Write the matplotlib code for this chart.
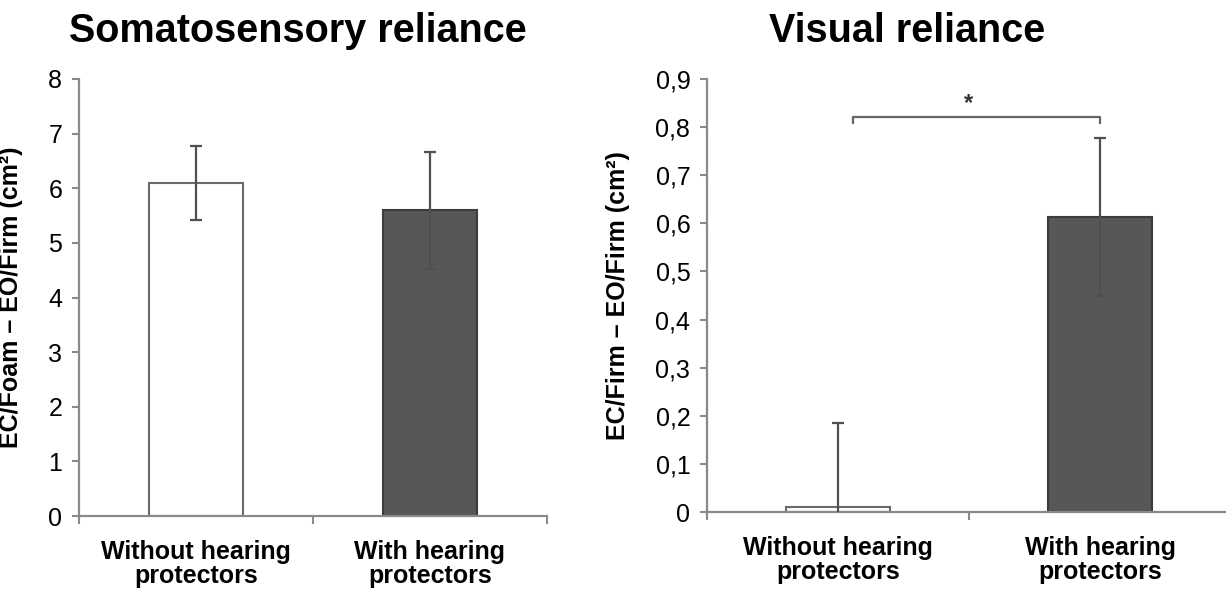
import matplotlib
matplotlib.use("Agg")
import matplotlib.pyplot as plt
from matplotlib.ticker import FixedLocator, FuncFormatter

plt.rcParams['font.family'] = ['Liberation Sans', 'DejaVu Sans']

# data
groups = ["Without hearing\nprotectors", "With hearing\nprotectors"]
somato_mean = [6.10, 5.60]
somato_err = [0.68, 1.07]
visual_mean = [0.01, 0.613]
visual_err = [0.175, 0.165]
bar_colors = ["white", "#575757"]
edge_colors = ["#6a6a6a", "#3c3c3c"]
visual_sig = (0.056, 1.0, 0.822, "*")   # x left, x right, height, mark

spine_col = "#8a8a8a"
err_col = "#505050"

fig = plt.figure(figsize=(12.26, 5.89), dpi=100)
ax1 = fig.add_axes([0.0644, 0.1239, 0.3817, 0.742])
ax2 = fig.add_axes([0.5767, 0.1307, 0.4274, 0.7351])


def draw_panel(ax, means, errs, ylim, yticks, ylabel, fmt):
    x = list(range(len(means)))
    ax.bar(x, means, width=0.40, color=bar_colors, edgecolor=edge_colors,
           linewidth=1.5, zorder=2)
    ax.errorbar(x, means, yerr=errs, fmt='none', ecolor=err_col,
                elinewidth=1.6, capsize=4.5, capthick=1.6, zorder=3)
    ax.set_xlim(-0.5, len(means) - 0.5)
    ax.set_ylim(*ylim)
    for s in ['top', 'right']:
        ax.spines[s].set_visible(False)
    for s in ['left', 'bottom']:
        ax.spines[s].set_color(spine_col)
        ax.spines[s].set_linewidth(1.6)
    ax.yaxis.set_major_locator(FixedLocator(yticks))
    ax.yaxis.set_major_formatter(FuncFormatter(fmt))
    ax.tick_params(axis='y', direction='out', length=5, width=1.5,
                   color=spine_col, labelsize=18, pad=7)
    # ticks at category borders, labels at the centres
    ax.xaxis.set_major_locator(FixedLocator([i - 0.5 for i in range(len(means) + 1)]))
    ax.xaxis.set_major_formatter(FuncFormatter(lambda v, p: ""))
    ax.xaxis.set_minor_locator(FixedLocator(x))
    ax.set_xticklabels(groups, minor=True)
    ax.tick_params(axis='x', which='major', direction='out', length=6,
                   width=1.5, color=spine_col)
    ax.tick_params(axis='x', which='minor', length=0, labelsize=18, pad=17)
    for t in ax.get_xticklabels(minor=True):
        t.set_fontweight('bold')
        t.set_linespacing(1.0)
    ax.set_ylabel(ylabel, fontsize=18, fontweight='bold')


draw_panel(ax1, somato_mean, somato_err, (0, 8), list(range(0, 9)),
           "EC/Foam – EO/Firm (cm²)", lambda v, p: f"{v:.0f}")
draw_panel(ax2, visual_mean, visual_err, (0, 0.9), [i / 10 for i in range(10)],
           "EC/Firm – EO/Firm (cm²)",
           lambda v, p: "0" if abs(v) < 1e-9 else f"{v:.1f}".replace(".", ","))
ax1.yaxis.set_label_coords(-0.12, 0.5)
ax2.yaxis.set_label_coords(-0.147, 0.5)

# significance bracket
xl, xr, h, mark = visual_sig
drop = 0.013
ax2.plot([xl, xl, xr, xr], [h - drop, h, h, h - drop], color="#666666",
         lw=1.6, clip_on=False, zorder=4)
ax2.text((xl + xr) / 2 - 0.03, h + 0.004, mark, ha='center', va='bottom',
         fontsize=17, fontweight='bold', color="#333333")

fig.text(0.243, 0.928, "Somatosensory reliance", ha='center', va='baseline',
         fontsize=28.5, fontweight='bold')
fig.text(0.740, 0.928, "Visual reliance", ha='center', va='baseline',
         fontsize=28.5, fontweight='bold')

fig.savefig("out.png", dpi=100)
